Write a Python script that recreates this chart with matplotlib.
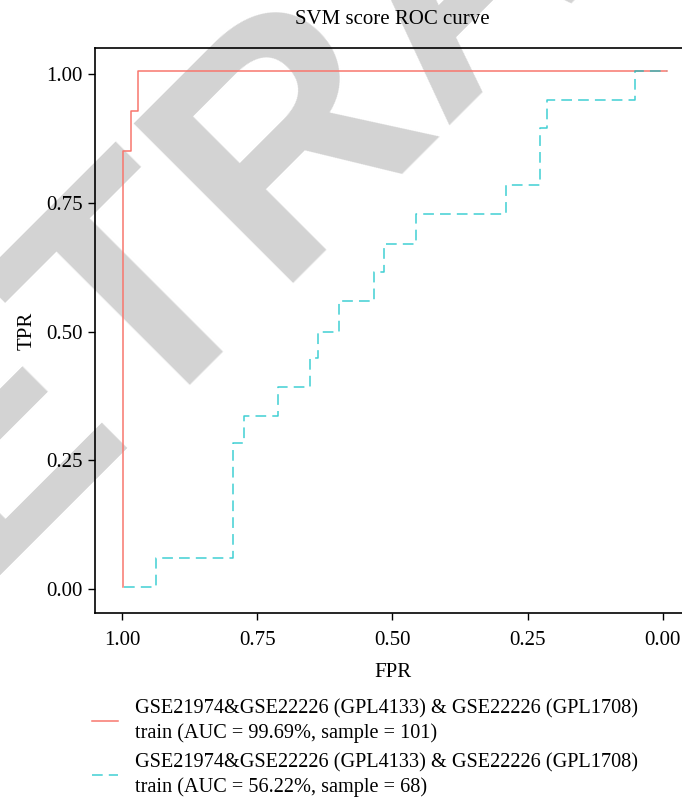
import matplotlib
matplotlib.use("Agg")
import matplotlib.pyplot as plt

plt.rcParams['font.family'] = ['Liberation Serif', 'DejaVu Serif']

# Data (x axis = "FPR" as labelled, reversed)
red_x = [0.998, 0.983, 0.970, -0.0085]
red_y = [0.004, 0.851, 0.928, 1.006]

cyan_x = [0.9957, 0.9377, 0.7942, 0.7744, 0.712, 0.6523, 0.638, 0.5987,
          0.5345, 0.5145, 0.4563, 0.2904, 0.227, 0.2146, 0.0507, -0.0085]
cyan_y = [0.004, 0.060, 0.2845, 0.337, 0.393, 0.448, 0.500, 0.559,
          0.615, 0.670, 0.728, 0.785, 0.895, 0.950, 1.006, 1.006]

labels = ["GSE21974&GSE22226 (GPL4133) & GSE22226 (GPL1708)\ntrain (AUC = 99.69%, sample = 101)",
          "GSE21974&GSE22226 (GPL4133) & GSE22226 (GPL1708)\ntrain (AUC = 56.22%, sample = 68)"]
xticks = [1.00, 0.75, 0.50, 0.25, 0.00]
yticks = [0.00, 0.25, 0.50, 0.75, 1.00]
tick_labels_x = ["1.00", "0.75", "0.50", "0.25", "0.00"]
tick_labels_y = ["0.00", "0.25", "0.50", "0.75", "1.00"]

W, H = 682, 799
FS = 15
fig = plt.figure(figsize=(W / 100, H / 100), dpi=100)

# watermark
fig.text(462 / W, 1 - (-28) / H, "RETRACTED", fontsize=235, fontweight='bold',
         family=['Liberation Sans', 'DejaVu Sans'], color='#d3d3d3', rotation=45,
         ha='center', va='center', zorder=-5)

ax = fig.add_axes([95 / W, 1 - 613.3 / H, (690 - 95) / W, (613.3 - 47.5) / H])
ax.set_facecolor('none')

ax.plot(red_x, red_y, drawstyle='steps-pre', color='#F8766D', lw=1.1,
        label=labels[0], zorder=3)
ax.plot(cyan_x, cyan_y, drawstyle='steps-post', color='#00BFC4', lw=1.1,
        ls=(0, (7, 4)), label=labels[1], zorder=3, alpha=0.75)

ax.set_xlim(1.0499, -0.0505)
ax.set_ylim(-0.0466, 1.0514)
ax.set_xticks(xticks)
ax.set_xticklabels(tick_labels_x)
ax.set_yticks(yticks)
ax.set_yticklabels(tick_labels_y)
ax.tick_params(axis='x', pad=8)
ax.tick_params(direction='out', length=5, width=1, labelsize=FS, colors='black')
ax.tick_params(axis='y', pad=4)
for s in ax.spines.values():
    s.set_linewidth(1.2)
    s.set_color('black')

ax.set_xlabel("FPR", fontsize=FS, labelpad=9)
ax.set_ylabel("TPR", fontsize=FS, labelpad=7)
ax.set_title("SVM score ROC curve", fontsize=FS, pad=17)

leg = fig.legend(loc='upper left', bbox_to_anchor=(92 / W, 1 - 699 / H),
                 frameon=False, fontsize=14.6, handlelength=1.3,
                 handletextpad=0.8, labelspacing=0.5, borderaxespad=0,
                 borderpad=0)
for t in leg.get_texts():
    t.set_linespacing(1.35)

fig.savefig("out.png", dpi=100)
